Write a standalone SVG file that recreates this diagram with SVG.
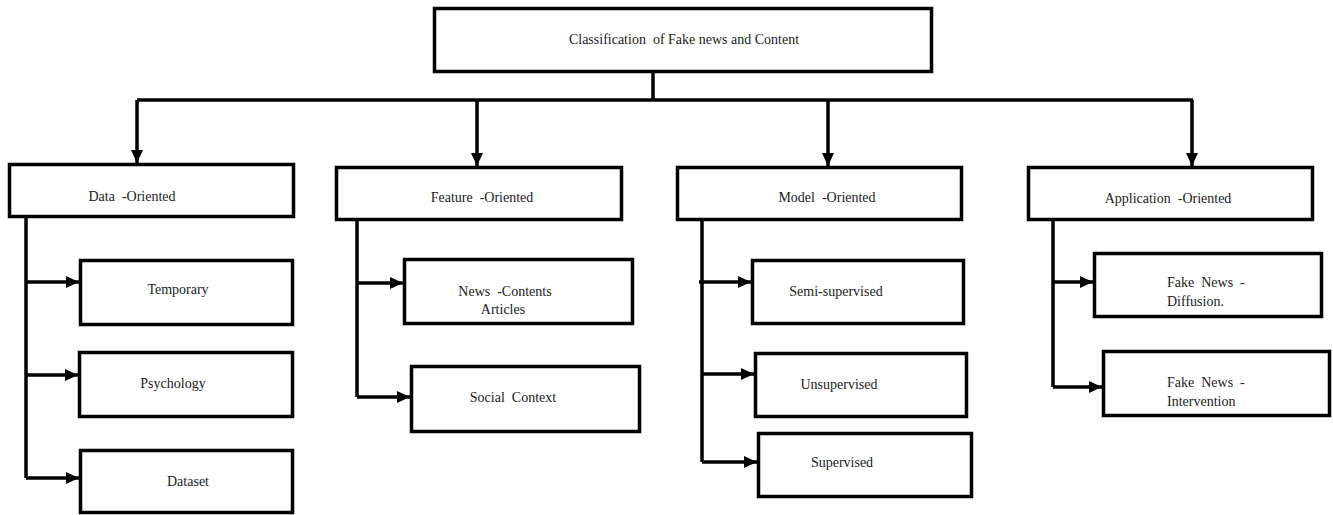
<svg xmlns="http://www.w3.org/2000/svg" width="1333" height="515" viewBox="0 0 1333 515">
<style>
.box{fill:#fff;stroke:#000;stroke-width:3.5}
.lbl{font-family:"Liberation Serif","Times New Roman",serif;font-size:14px;fill:#222;text-anchor:middle;white-space:pre}
.lft{text-anchor:start}
.con{fill:none;stroke:#000;stroke-width:3.5}
</style>
<defs>
<marker id="ah" markerUnits="userSpaceOnUse" markerWidth="14" markerHeight="12" refX="13" refY="6" orient="auto">
<path d="M0,0 L13,6 L0,12 Z" fill="#000"/>
</marker>
</defs>
<rect width="1333" height="515" fill="#fff"/>
<g id="connectors">
<path class="con" d="M653,73 V100"/>
<path class="con" d="M137,100 H1193"/>
<path class="con" d="M137,100 V163" marker-end="url(#ah)"/>
<path class="con" d="M477,100 V166" marker-end="url(#ah)"/>
<path class="con" d="M828,100 V166" marker-end="url(#ah)"/>
<path class="con" d="M1192,100 V166" marker-end="url(#ah)"/>
<path class="con" d="M26,218 V478"/>
<path class="con" d="M26,282 H79" marker-end="url(#ah)"/>
<path class="con" d="M26,375 H78" marker-end="url(#ah)"/>
<path class="con" d="M26,478 H79" marker-end="url(#ah)"/>
<path class="con" d="M357,221 V397"/>
<path class="con" d="M357,283 H403" marker-end="url(#ah)"/>
<path class="con" d="M357,397 H410" marker-end="url(#ah)"/>
<path class="con" d="M702,221 V462"/>
<path class="con" d="M699,282 H751" marker-end="url(#ah)"/>
<path class="con" d="M702,374 H754" marker-end="url(#ah)"/>
<path class="con" d="M702,462 H757" marker-end="url(#ah)"/>
<path class="con" d="M1053,221 V387"/>
<path class="con" d="M1053,282 H1093" marker-end="url(#ah)"/>
<path class="con" d="M1053,387 H1102" marker-end="url(#ah)"/>
</g>
<g id="root"><rect class="box" x="434.5" y="8.5" width="497" height="63"/><text class="lbl" x="684" y="44" xml:space="preserve">Classification  of Fake news and Content</text></g>
<g id="data"><rect class="box" x="9.5" y="164.5" width="284" height="52"/><text class="lbl" x="132" y="201" xml:space="preserve">Data  -Oriented</text></g>
<g id="feature"><rect class="box" x="336.5" y="167.5" width="285" height="52"/><text class="lbl" x="482" y="202" xml:space="preserve">Feature  -Oriented</text></g>
<g id="model"><rect class="box" x="677.5" y="167.5" width="284" height="52"/><text class="lbl" x="827" y="202" xml:space="preserve">Model  -Oriented</text></g>
<g id="application"><rect class="box" x="1028.5" y="167.5" width="284" height="52"/><text class="lbl" x="1168" y="203" xml:space="preserve">Application  -Oriented</text></g>
<g id="temporary"><rect class="box" x="80.5" y="260.5" width="212" height="64"/><text class="lbl" x="178" y="294">Temporary</text></g>
<g id="psychology"><rect class="box" x="79.5" y="352.5" width="213" height="64"/><text class="lbl" x="173" y="388">Psychology</text></g>
<g id="dataset"><rect class="box" x="80.5" y="450.5" width="212" height="62"/><text class="lbl" x="188" y="486">Dataset</text></g>
<g id="news"><rect class="box" x="404.5" y="259.5" width="228" height="64"/><text class="lbl" x="505" y="296" xml:space="preserve">News  -Contents</text><text class="lbl" x="503" y="314">Articles</text></g>
<g id="social"><rect class="box" x="411.5" y="366.5" width="228" height="65"/><text class="lbl" x="513" y="402" xml:space="preserve">Social  Context</text></g>
<g id="semi"><rect class="box" x="752.5" y="260.5" width="211" height="63"/><text class="lbl" x="836" y="296">Semi-supervised</text></g>
<g id="unsup"><rect class="box" x="755.5" y="353.5" width="211" height="63"/><text class="lbl" x="839" y="389">Unsupervised</text></g>
<g id="sup"><rect class="box" x="758.5" y="433.5" width="213" height="63"/><text class="lbl" x="842" y="467">Supervised</text></g>
<g id="diffusion"><rect class="box" x="1094.5" y="253.5" width="227" height="63"/><text class="lbl lft" x="1167" y="287" xml:space="preserve">Fake  News  -</text><text class="lbl lft" x="1167" y="306">Diffusion.</text></g>
<g id="intervention"><rect class="box" x="1103.5" y="351.5" width="226" height="64"/><text class="lbl lft" x="1167" y="387" xml:space="preserve">Fake  News  -</text><text class="lbl lft" x="1167" y="406">Intervention</text></g>
</svg>
